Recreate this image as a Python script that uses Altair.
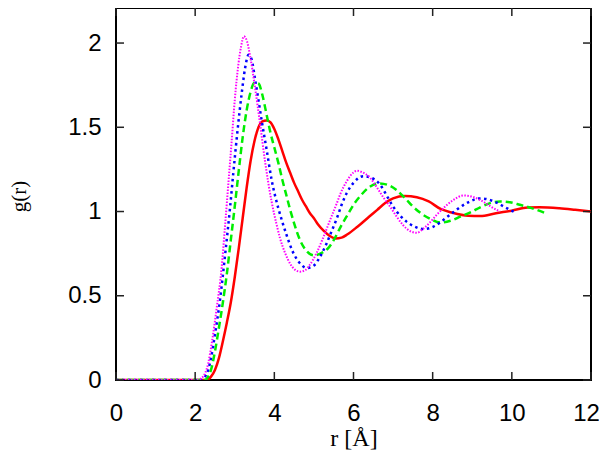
import altair as alt
import pandas as pd

# ---- data ----
red_r = [0, 2.3, 2.4, 2.5, 2.6, 2.7, 2.8, 2.9, 3.0, 3.1, 3.2, 3.3, 3.4, 3.5, 3.6, 3.7, 3.8, 3.9, 4.0, 4.1,
         4.2, 4.3, 4.4, 4.5, 4.6, 4.7, 4.8, 4.9, 5.0, 5.1, 5.25, 5.4, 5.55, 5.7, 5.85, 6.1, 6.4, 6.6, 6.8,
         7.0, 7.3, 7.6, 7.9, 8.2, 8.5, 8.9, 9.2, 9.6, 10.0, 10.4, 10.7, 11.2, 11.6, 12.0]
red_g = [0, 0, 0.02, 0.06, 0.13, 0.23, 0.34, 0.46, 0.61, 0.78, 0.96, 1.14, 1.30, 1.42, 1.50, 1.535, 1.54,
         1.53, 1.49, 1.43, 1.36, 1.29, 1.23, 1.17, 1.12, 1.07, 1.03, 0.99, 0.96, 0.925, 0.885, 0.855,
         0.84, 0.845, 0.865, 0.91, 0.97, 1.01, 1.05, 1.078, 1.092, 1.085, 1.06, 1.015, 0.993, 0.975,
         0.973, 0.99, 1.005, 1.024, 1.025, 1.019, 1.01, 1.0]

green_r = [0, 2.25, 2.3, 2.4, 2.5, 2.6, 2.7, 2.8, 2.9, 3.0, 3.1, 3.2, 3.3, 3.4, 3.5, 3.6, 3.7, 3.8, 3.9, 4.0,
           4.1, 4.2, 4.3, 4.4, 4.5, 4.65, 4.8, 5.0, 5.2, 5.35, 5.5, 5.7, 5.85, 6.0, 6.2, 6.4, 6.65, 6.9, 7.1,
           7.3, 7.5, 7.7, 7.95, 8.2, 8.45, 8.7, 9.0, 9.2, 9.45, 9.7, 9.95, 10.2, 10.5, 10.85]
green_g = [0, 0, 0.01, 0.06, 0.17, 0.31, 0.46, 0.63, 0.83, 1.03, 1.24, 1.44, 1.60, 1.71, 1.765, 1.76,
           1.69, 1.58, 1.47, 1.38, 1.29, 1.19, 1.10, 1.01, 0.93, 0.83, 0.77, 0.74, 0.755, 0.78, 0.83,
           0.92, 0.98, 1.04, 1.10, 1.145, 1.167, 1.155, 1.125, 1.08, 1.03, 0.99, 0.955, 0.934, 0.945,
           0.97, 1.0, 1.025, 1.05, 1.06, 1.055, 1.04, 1.02, 0.99]

blue_r = [0, 2.15, 2.25, 2.33, 2.4, 2.5, 2.63, 2.75, 2.88, 2.96, 3.07, 3.18, 3.26, 3.35, 3.43, 3.51, 3.6,
          3.68, 3.81, 3.93, 4.1, 4.2, 4.31, 4.45, 4.56, 4.7, 4.82, 5.0, 5.1, 5.24, 5.32, 5.45, 5.58, 5.7,
          5.83, 6.0, 6.25, 6.45, 6.67, 6.85, 7.0, 7.2, 7.34, 7.55, 7.76, 8.02, 8.19, 8.35, 8.52, 8.69, 8.9,
          9.2, 9.53, 9.83, 10.12]
blue_g = [0, 0, 0.02, 0.06, 0.13, 0.27, 0.48, 0.73, 1.02, 1.22, 1.48, 1.71, 1.85, 1.93, 1.9, 1.79, 1.66,
          1.54, 1.36, 1.19, 1.02, 0.94, 0.86, 0.77, 0.72, 0.68, 0.665, 0.68, 0.71, 0.77, 0.81, 0.885, 0.96,
          1.04, 1.11, 1.17, 1.21, 1.2, 1.16, 1.09, 1.03, 0.97, 0.94, 0.91, 0.896, 0.91, 0.935, 0.965,
          0.995, 1.025, 1.055, 1.078, 1.062, 1.025, 0.99]

mag_r = [0, 2.05, 2.15, 2.25, 2.33, 2.42, 2.54, 2.67, 2.75, 2.84, 2.92, 3.0, 3.09, 3.16, 3.23, 3.31, 3.39,
         3.51, 3.64, 3.77, 3.93, 4.06, 4.14, 4.27, 4.4, 4.52, 4.65, 4.78, 4.9, 5.07, 5.2, 5.41, 5.58, 5.66,
         5.83, 6.0, 6.08, 6.2, 6.42, 6.6, 6.75, 6.95, 7.09, 7.25, 7.43, 7.6, 7.75, 7.93, 8.1, 8.27, 8.5,
         8.78, 9.0, 9.2, 9.36, 9.5, 9.7]
mag_g = [0, 0, 0.01, 0.04, 0.1, 0.22, 0.42, 0.67, 0.9, 1.17, 1.41, 1.66, 1.87, 1.98, 2.04, 2.01, 1.92,
         1.74, 1.52, 1.29, 1.06, 0.92, 0.845, 0.755, 0.69, 0.655, 0.643, 0.652, 0.685, 0.755, 0.825,
         0.95, 1.05, 1.1, 1.18, 1.232, 1.242, 1.235, 1.2, 1.14, 1.085, 1.02, 0.97, 0.92, 0.884, 0.874,
         0.895, 0.935, 0.98, 1.02, 1.065, 1.095, 1.088, 1.068, 1.046, 1.025, 1.0]

x_ticks = [0, 2, 4, 6, 8, 10, 12]
y_ticks = [0, 0.5, 1, 1.5, 2]

W, H = 475, 372
X_DOMAIN = [0, 12]
Y_DOMAIN = [0, 2.208]

xs = alt.Scale(domain=X_DOMAIN, nice=False, zero=False)
ys = alt.Scale(domain=Y_DOMAIN, nice=False)

x_axis = alt.Axis(values=x_ticks, grid=False, domain=False, ticks=False, format="~g",
                  labelFont="Liberation Sans", labelFontSize=24, labelColor="black",
                  labelPadding=21, title="r [Å]", titleFont="Liberation Serif",
                  titleFontSize=24, titleFontWeight="normal", titleColor="black",
                  titleBaseline="middle", titleY=58, labelFlush=False,
                  labelOffset={"condition": {"test": "datum.value === 12", "value": -5}, "value": 0})
y_axis = alt.Axis(values=y_ticks, grid=False, domain=False, ticks=False, format="~g",
                  labelFont="Liberation Sans", labelFontSize=24, labelColor="black",
                  labelPadding=15, title="g(r)", titleFont="Liberation Serif",
                  titleFontSize=21, titleFontWeight="normal", titleColor="black",
                  titleAngle=-90, titleBaseline="middle", titleX=-97, titleY=188,
                  labelFlush=False)


def curve(rs, gs, color, width, dash=None):
    df = pd.DataFrame({"r": rs, "g": gs})
    kw = dict(color=color, strokeWidth=width, interpolate="monotone", clip=True, strokeCap="butt")
    if dash:
        kw["strokeDash"] = dash
    return alt.Chart(df).mark_line(**kw).encode(
        x=alt.X("r:Q", scale=xs, axis=x_axis),
        y=alt.Y("g:Q", scale=ys, axis=y_axis),
    )


red = curve(red_r, red_g, "#ff0000", 2.5)
green = curve(green_r, green_g, "#00ee00", 2.5, [7, 4])
blue = curve(blue_r, blue_g, "#0000ff", 2.5, [2.5, 3.5])
mag = curve(mag_r, mag_g, "#ff00ff", 2, [1.5, 1.5])

# inward tick marks on all four sides (gnuplot style)
tick_df_x = pd.DataFrame({"r": x_ticks})
tick_df_y = pd.DataFrame({"g": y_ticks})
TL = 8
tick_style = dict(color="#222222", strokeWidth=1.5)
bottom_ticks = alt.Chart(tick_df_x).mark_rule(**tick_style).encode(
    x=alt.X("r:Q", scale=xs, axis=x_axis), y=alt.value(H), y2=alt.value(H - TL))
top_ticks = alt.Chart(tick_df_x).mark_rule(**tick_style).encode(
    x=alt.X("r:Q", scale=xs, axis=x_axis), y=alt.value(0), y2=alt.value(TL))
left_ticks = alt.Chart(tick_df_y).mark_rule(**tick_style).encode(
    y=alt.Y("g:Q", scale=ys, axis=y_axis), x=alt.value(0), x2=alt.value(TL))
right_ticks = alt.Chart(tick_df_y).mark_rule(**tick_style).encode(
    y=alt.Y("g:Q", scale=ys, axis=y_axis), x=alt.value(W), x2=alt.value(W - TL))

chart = alt.layer(
    red, green, blue, mag, bottom_ticks, top_ticks, left_ticks, right_ticks
).properties(
    width=W, height=H,
    autosize=alt.AutoSizeParams(type="none"),
    padding={"left": 108, "top": 0, "right": 8, "bottom": 70},
).configure_view(stroke="black", strokeWidth=2)

chart.save("out.html", embed_options={"renderer": "svg", "actions": False})
